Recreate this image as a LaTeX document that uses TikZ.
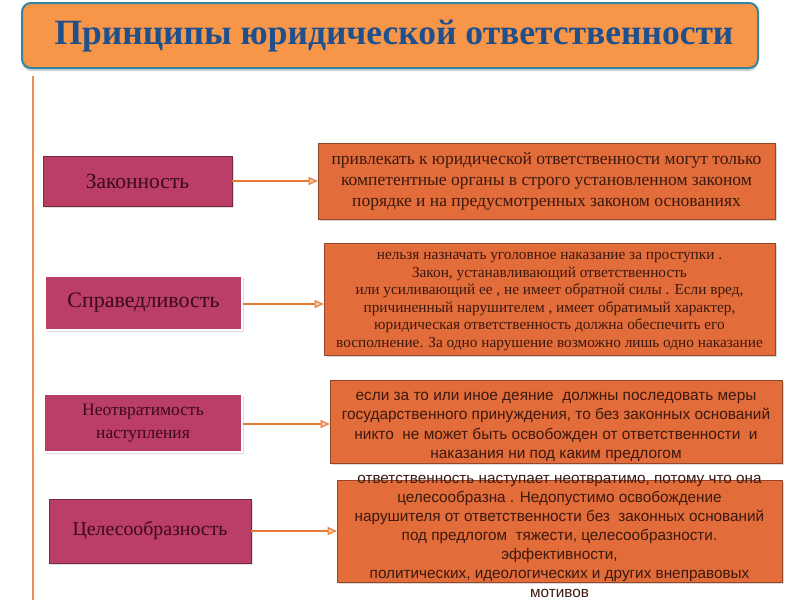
\documentclass[tikz,border=0pt]{standalone}
\usepackage{fontspec}
\setmainfont{Liberation Serif}
\setsansfont{Liberation Sans}
\usetikzlibrary{arrows.meta,shadows}
\definecolor{titlefill}{RGB}{247,150,72}
\definecolor{titleborder}{RGB}{49,133,160}
\definecolor{titletext}{RGB}{31,80,140}
\definecolor{magbox}{RGB}{186,62,102}
\definecolor{magborder}{RGB}{120,40,60}
\definecolor{magtext}{RGB}{60,10,30}
\definecolor{orbox}{RGB}{226,108,58}
\definecolor{orborder}{RGB}{150,70,40}
\definecolor{ortext}{RGB}{60,25,15}
\definecolor{arrowcol}{RGB}{232,122,48}
\begin{document}
\begin{tikzpicture}[x=1pt,y=-1pt,
  leftbox/.style={draw=magborder,line width=0.6pt,fill=magbox,text=magtext,align=center,inner sep=2pt,
    drop shadow={opacity=0.25,shadow xshift=1.5pt,shadow yshift=-2pt}},
  rightbox/.style={draw=orborder,line width=0.6pt,fill=orbox,text=ortext,align=center,inner sep=2pt,
    drop shadow={opacity=0.3,shadow xshift=2pt,shadow yshift=-2pt}},
  boxtext/.style={text=ortext,align=center,inner sep=0pt},
  link/.style={draw=arrowcol,line width=1.3pt,-{Triangle[open,length=9pt,width=8pt,line width=1pt,fill=arrowcol!45]}}
]
\useasboundingbox (0,0) rectangle (800,600);
% title
\node[draw=titleborder,line width=2pt,fill=titlefill,rounded corners=9pt,minimum width=736pt,minimum height=65pt,
  drop shadow={opacity=0.35,shadow xshift=0pt,shadow yshift=-3pt}] (title) at (390,35.5) {};
\node[text=titletext,font=\fontsize{35.5}{38}\selectfont\bfseries] (titletxt) at (394,36) {Принципы юридической ответственности};
% vertical line
\coordinate (vtop) at (33,76);
\coordinate (vbot) at (33,600);
\draw[arrowcol!85,line width=2pt] (vtop) -- (vbot);
% left boxes
\node[leftbox,minimum width=189pt,minimum height=50pt,font=\fontsize{21.5}{22}\selectfont] (L1) at (137.5,181) {Законность};
\node[leftbox,draw=white,line width=1.5pt,minimum width=197pt,minimum height=54pt,font=\fontsize{22}{22}\selectfont] (L2) at (143.5,303) {Справедливость};
\node[leftbox,draw=white,line width=1.5pt,minimum width=198pt,minimum height=58pt,font=\fontsize{17.5}{22.5}\selectfont] (L3) at (143,423) {Неотвратимость\\наступления};
\node[leftbox,minimum width=202pt,minimum height=64pt,font=\fontsize{19.8}{22}\selectfont] (L4) at (150,531) {Целесообразность};
% right boxes
\node[rightbox,minimum width=457pt,minimum height=76pt,font=\fontsize{17.5}{21}\selectfont] (R1) at (546.5,181)
 {привлекать к юридической ответственности могут только\\компетентные органы в строго установленном законом\\порядке и на предусмотренных законом основаниях};
\node[rightbox,minimum width=451pt,minimum height=112pt] (R2) at (549.5,299) {};
\node[boxtext,font=\fontsize{15.3}{17.6}\selectfont] (T2) at (549.5,301.5)
 {нельзя назначать уголовное наказание за проступки .\\Закон, устанавливающий ответственность\\или усиливающий ее , не имеет обратной силы . Если вред,\\причиненный нарушителем , имеет обратимый характер,\\юридическая ответственность должна обеспечить его\\восполнение. За одно нарушение возможно лишь одно наказание};
\node[rightbox,minimum width=452pt,minimum height=83pt] (R3) at (556,421.5) {};
\node[boxtext,font=\sffamily\fontsize{15.4}{19.5}\selectfont] (T3) at (556,427)
 {если за то или иное деяние \ должны последовать меры\\государственного принуждения, то без законных оснований\\никто \ не может быть освобожден от ответственности \ и\\наказания ни под каким предлогом};
\node[rightbox,minimum width=445pt,minimum height=102pt] (R4) at (559.5,531) {};
\node[boxtext,font=\sffamily\fontsize{15.3}{19}\selectfont] (T4) at (559.5,536)
 {ответственность наступает неотвратимо, потому что она\\целесообразна . Недопустимо освобождение\\нарушителя от ответственности без \ законных оснований\\под предлогом \ тяжести, целесообразности.\\эффективности,\\политических, идеологических и других внеправовых\\мотивов};
% arrows
\draw[link] (L1.east) -- (L1.east -| R1.west);
\draw[link] ([yshift=-1pt]L2.east) -- ([yshift=-1pt]L2.east -| R2.west);
\draw[link] ([yshift=-1pt]L3.east) -- ([yshift=-1pt]L3.east -| R3.west);
\draw[link] (L4.east) -- (L4.east -| R4.west);
\end{tikzpicture}
\end{document}
